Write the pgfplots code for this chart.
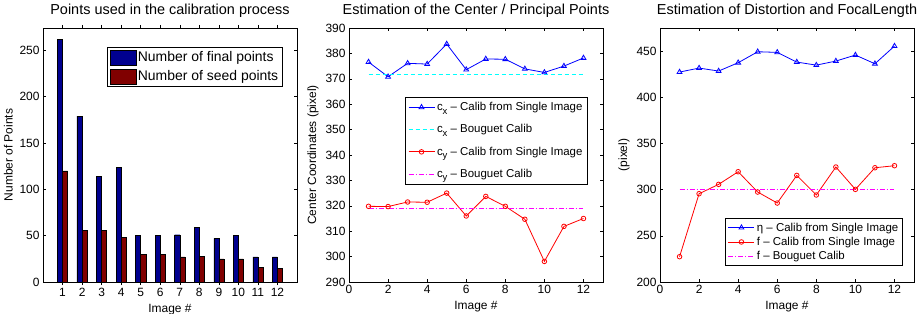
\documentclass[border=0pt]{standalone}
\usepackage{pgfplots}
\pgfplotsset{compat=1.18}
\usepackage{fontspec}
\setmainfont{Liberation Sans}
\definecolor{barblue}{RGB}{0,0,143}
\definecolor{barred}{RGB}{128,0,0}
\definecolor{mblue}{RGB}{0,0,255}
\definecolor{mred}{RGB}{255,0,0}
\definecolor{mcyan}{RGB}{0,255,255}
\definecolor{mmag}{RGB}{255,0,255}
\pgfplotsset{
 myax/.style={
  scale only axis, width=254bp, height=254bp, anchor=south west,
  /pgf/number format/assume math mode=true,
  tick align=inside, major tick length=3bp,
  tick label style={font=\fontsize{12}{14}\selectfont},
  label style={font=\fontsize{12}{14}\selectfont},
  title style={font=\fontsize{14.5}{17}\selectfont, yshift=1bp},
  legend cell align=left,
  axis line style={black, line width=0.6bp},
  every tick/.style={black, line width=0.5bp},
  legend style={draw=black, line width=0.6bp, fill=white, inner sep=2bp},
  scaled ticks=false,
 },
 linelegend/.style={legend image code/.code={
   \draw[mark repeat=2,mark phase=2,##1] plot coordinates {(0bp,0bp) (13bp,0bp) (26bp,0bp)};}},
}
\newcommand{\sub}[1]{\raisebox{-0.55ex}{\fontsize{9.5}{10}\selectfont #1}}
\begin{document}
\begin{tikzpicture}[x=1bp,y=1bp]
\useasboundingbox (0,0) rectangle (924,313);
% Panel 1
\begin{axis}[myax, at={(43bp,31bp)},
  title={Points used in the calibration process},
  xlabel={Image \#}, ylabel={Number of Points},
  xmin=0, xmax=13, ymin=0, ymax=274,
  xtick={1,...,12}, ytick={0,50,100,150,200,250},
  ybar=0pt,
  legend style={at={(0.945,0.925)}, anchor=north east, font=\fontsize{14}{16}\selectfont, row sep=3bp, inner sep=2.5bp},
  legend image code/.code={\draw[#1] (0bp,-7.5bp) rectangle (26bp,7.5bp);},
]
\addplot[fill=barblue, draw=black, line width=0.4bp, bar width=0.26, bar shift=-0.13] coordinates {
(1,262) (2,179) (3,114) (4,124) (5,50) (6,50) (7,51) (8,59) (9,47) (10,50) (11,27) (12,27)};
\addplot[fill=barred, draw=black, line width=0.4bp, bar width=0.26, bar shift=0.13] coordinates {
(1,120) (2,56) (3,56) (4,48) (5,30) (6,30) (7,27) (8,28) (9,25) (10,25) (11,16) (12,15)};
\legend{Number of final points, Number of seed points}
\end{axis}
% Panel 2
\begin{axis}[myax, at={(349bp,31bp)}, linelegend,
  title={Estimation of the Center / Principal Points},
  xlabel={Image \#}, ylabel={Center Coordinates (pixel)},
  xmin=0, xmax=13, ymin=290, ymax=390,
  xtick={0,2,...,12}, ytick={290,300,...,390},
  legend style={at={(0.94,0.728)}, anchor=north east, font=\fontsize{11.5}{13}\selectfont, row sep=8.5bp, inner sep=3bp},
]
\addplot[color=mblue, line width=0.8bp, mark=triangle, mark size=2.8bp, mark options={solid}] coordinates {
(1,376.6) (2,370.8) (3,376.1) (4,375.8) (5,383.7) (6,373.6) (7,377.8) (8,377.7) (9,373.9) (10,372.5) (11,375.0) (12,378.2)};
\addplot[color=mcyan, line width=1bp, dash pattern=on 4bp off 3bp] coordinates {(1,371.8) (12,371.8)};
\addplot[color=mred, line width=0.8bp, mark=o, mark size=2.3bp, mark options={solid}] coordinates {
(1,319.8) (2,319.7) (3,321.5) (4,321.4) (5,325.0) (6,316.0) (7,323.7) (8,319.8) (9,314.7) (10,298.1) (11,311.9) (12,315.0)};
\addplot[color=mmag, line width=1bp, dash pattern=on 5bp off 2bp on 1bp off 2bp] coordinates {(1,318.9) (12,318.9)};
\legend{c\sub{x} -- Calib from Single Image, c\sub{x} -- Bouguet Calib, c\sub{y} -- Calib from Single Image, c\sub{y} -- Bouguet Calib}
\end{axis}
% Panel 3
\begin{axis}[myax, at={(660bp,31bp)}, linelegend,
  title={Estimation of Distortion and FocalLength},
  xlabel={Image \#}, ylabel={(pixel)},
  xmin=0, xmax=13, ymin=200, ymax=475,
  xtick={0,2,...,12}, ytick={200,250,...,450},
  legend style={at={(0.957,0.252)}, anchor=north east, font=\fontsize{11.5}{13}\selectfont, row sep=0.5bp, inner sep=2.5bp},
]
\addplot[color=mblue, line width=0.8bp, mark=triangle, mark size=2.8bp, mark options={solid}] coordinates {
(1,427.3) (2,431.6) (3,428.4) (4,437.4) (5,449.3) (6,448.6) (7,438.1) (8,434.8) (9,439.2) (10,445.7) (11,436.3) (12,455.4)};
\addplot[color=mred, line width=0.8bp, mark=o, mark size=2.3bp, mark options={solid}] coordinates {
(1,227.4) (2,295.6) (3,305.7) (4,319.4) (5,297.4) (6,285.5) (7,315.4) (8,294.2) (9,324.5) (10,300.3) (11,323.7) (12,325.9)};
\addplot[color=mmag, line width=1bp, dash pattern=on 5bp off 2bp on 1bp off 2bp] coordinates {(1,300.6) (12,300.6)};
\legend{η -- Calib from Single Image, f -- Calib from Single Image, f -- Bouguet Calib}
\end{axis}
\end{tikzpicture}
\end{document}
